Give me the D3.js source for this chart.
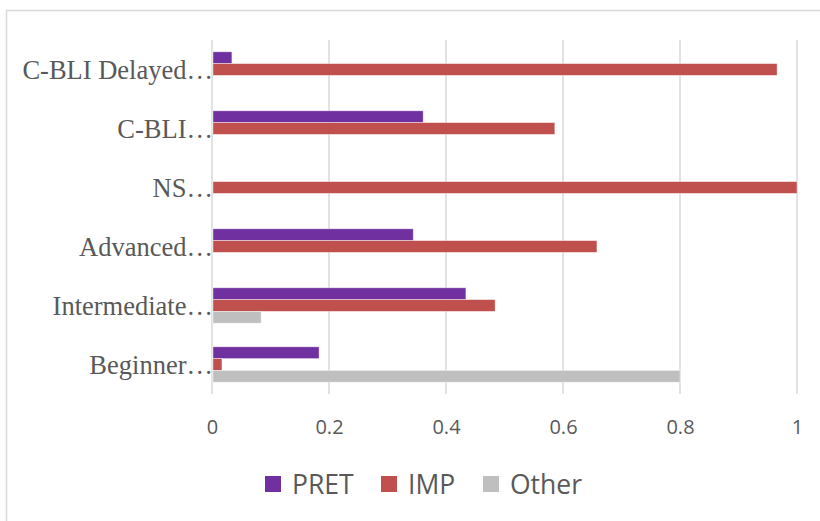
<!DOCTYPE html>
<html>
<head>
<meta charset="utf-8">
<script src="https://cdn.jsdelivr.net/npm/d3@7"></script>
<style>
  html, body { margin: 0; padding: 0; background: #fff; }
  svg { display: block; }
</style>
</head>
<body>
<svg id="chart" width="820" height="521"></svg>
<script>
// Learner groups, listed top to bottom
const categories = ["C-BLI Delayed…", "C-BLI…", "NS…", "Advanced…", "Intermediate…", "Beginner…"];
const seriesNames = ["PRET", "IMP", "Other"];
const seriesColors = ["#7030a0", "#c0504d", "#bfbfbf"];
const pretValues  = [0.034, 0.361, 0, 0.344, 0.434, 0.183];
const impValues   = [0.966, 0.586, 1.0, 0.658, 0.484, 0.017];
const otherValues = [0, 0, 0, 0, 0.084, 0.8];
const xTicks = [0, 0.2, 0.4, 0.6, 0.8, 1];

const series = [pretValues, impValues, otherValues];
const rows = categories.map((c, i) => ({
  cat: c,
  vals: seriesNames.map((s, j) => ({ key: s, value: series[j][i] }))
}));

const svg = d3.select("#chart");

// Outer chart frame
svg.append("rect")
  .attr("x", 6.5).attr("y", 10.5)
  .attr("width", 830).attr("height", 530)
  .attr("fill", "none").attr("stroke", "#d9d9d9").attr("stroke-width", 1.5);

const plot = { left: 212, right: 797, top: 40, bottom: 394 };

const x = d3.scaleLinear().domain([0, 1]).range([plot.left, plot.right]);
const y = d3.scaleBand().domain(categories).range([plot.top, plot.bottom]).paddingInner(0.4).paddingOuter(0.2);
const ySub = d3.scaleBand().domain(seriesNames).range([0, y.bandwidth()]);

// Vertical gridlines
svg.append("g")
  .selectAll("line")
  .data(xTicks)
  .join("line")
  .attr("x1", d => x(d)).attr("x2", d => x(d))
  .attr("y1", plot.top).attr("y2", plot.bottom)
  .attr("stroke", "#d9d9d9").attr("stroke-width", 1.5);

// Bars
const groups = svg.append("g")
  .selectAll("g")
  .data(rows)
  .join("g")
  .attr("transform", d => `translate(0,${y(d.cat)})`);

groups.selectAll("rect")
  .data(d => d.vals.filter(v => v.value > 0))
  .join("rect")
  .attr("x", x(0) + 1)
  .attr("y", v => ySub(v.key))
  .attr("width", v => x(v.value) - x(0) - 1)
  .attr("height", ySub.bandwidth())
  .attr("fill", v => seriesColors[seriesNames.indexOf(v.key)])
  .attr("stroke", "#ffffff").attr("stroke-opacity", 0.5).attr("stroke-width", 0.8);

// Category labels
const yAxis = d3.axisLeft(y).tickSize(0).tickPadding(0);
const yg = svg.append("g").attr("transform", `translate(${plot.left + 1},0)`).call(yAxis);
yg.select(".domain").remove();
yg.selectAll("text")
  .attr("font-family", "'Liberation Serif', 'Times New Roman', serif")
  .attr("font-size", 26.5)
  .attr("fill", "#595959")
  .attr("dy", "0.34em");

// Value axis labels
const xAxis = d3.axisBottom(x).tickValues(xTicks).tickFormat(d3.format("~g")).tickSize(0).tickPadding(0);
const xg = svg.append("g").attr("transform", `translate(0,420)`).call(xAxis);
xg.select(".domain").remove();
xg.selectAll("text")
  .attr("font-family", "'Open Sans', sans-serif")
  .attr("font-size", 20)
  .attr("fill", "#595959")
  .attr("dy", "0.35em")
  .attr("y", 7);

// Legend
const legendX = [265, 381, 483];
const legend = svg.append("g");
seriesNames.forEach((name, i) => {
  legend.append("rect")
    .attr("x", legendX[i]).attr("y", 476)
    .attr("width", 16).attr("height", 16)
    .attr("fill", seriesColors[i]);
  legend.append("text")
    .attr("x", legendX[i] + 27).attr("y", 484)
    .attr("dy", "0.36em")
    .attr("font-family", "'Open Sans', sans-serif")
    .attr("font-size", 26.5)
    .attr("fill", "#595959")
    .text(name);
});
</script>
</body>
</html>
